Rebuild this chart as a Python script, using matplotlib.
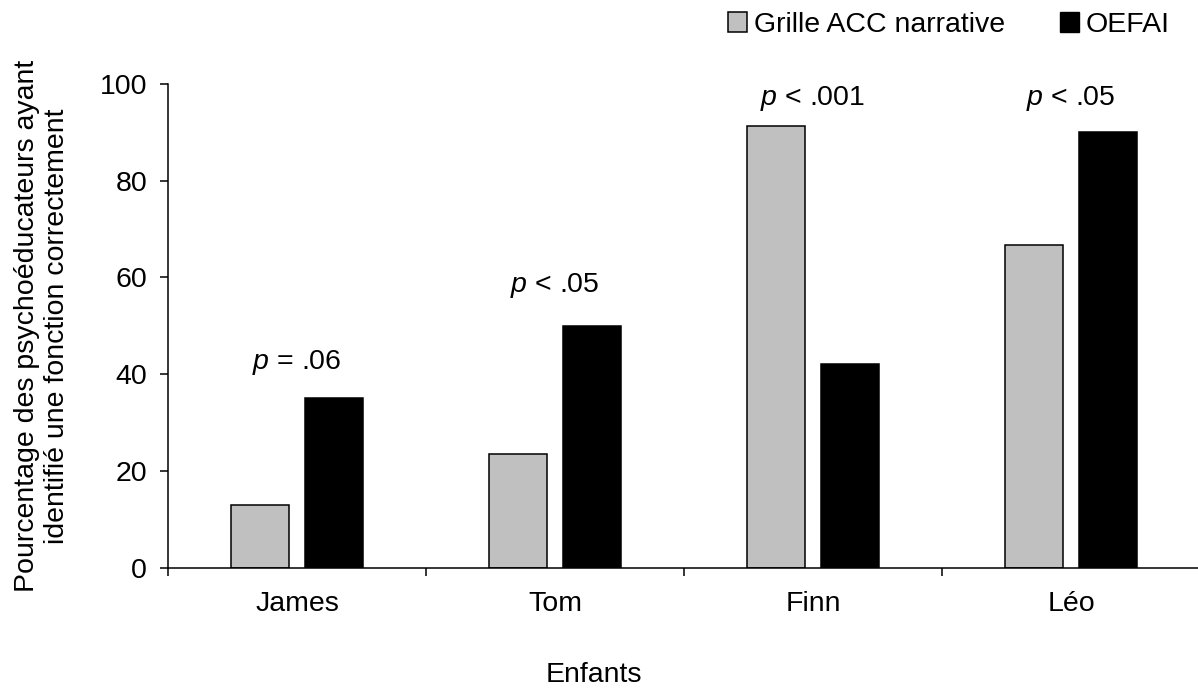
import matplotlib
matplotlib.use("Agg")
import matplotlib.pyplot as plt
from matplotlib.patches import Patch
import numpy as np

plt.rcParams["font.family"] = ["Liberation Sans", "DejaVu Sans"]
plt.rcParams["mathtext.fontset"] = "custom"
plt.rcParams["mathtext.rm"] = "Liberation Sans"
plt.rcParams["mathtext.it"] = "Liberation Sans:italic"

# data
enfants = ["James", "Tom", "Finn", "Léo"]
grille_acc = [13, 23.4, 91.3, 66.7]
oefai = [35, 50, 42, 90]
p_labels = ["$\\mathit{p}$ = .06", "$\\mathit{p}$ < .05", "$\\mathit{p}$ < .001", "$\\mathit{p}$ < .05"]
p_label_y = [42.5, 58.4, 97, 97]

fs = 20.5
fig = plt.figure(figsize=(11.98, 6.92), dpi=100)
ax = fig.add_axes([168 / 1198, 1 - 567.5 / 692, 1032 / 1198, (567.5 - 84) / 692])

x = np.arange(len(enfants))
w = 0.225
ax.bar(x - 0.144, grille_acc, w, color="#c0c0c0", edgecolor="black", linewidth=1.1)
ax.bar(x + 0.144, oefai, w, color="black", edgecolor="black", linewidth=1.1)

for xi, lab, yi in zip(x, p_labels, p_label_y):
    ax.text(xi, yi, lab, ha="center", va="center", fontsize=fs)

ax.set_xlim(-0.5, 3.5)
ax.set_ylim(0, 100)
ax.set_yticks([0, 20, 40, 60, 80, 100])
ax.set_xticks(x)
ax.set_xticklabels(enfants)
ax.set_xticks(np.arange(-0.5, 4, 1), minor=True)
ax.tick_params(axis="x", which="major", length=0, pad=17, labelsize=fs)
ax.tick_params(axis="x", which="minor", length=6, width=1.1, direction="out")
ax.tick_params(axis="y", length=6, width=1.1, pad=9, labelsize=fs, direction="out")

for s in ["top", "right"]:
    ax.spines[s].set_visible(False)
for s in ["left", "bottom"]:
    ax.spines[s].set_linewidth(1.1)

ax.set_ylabel("Pourcentage des psychoéducateurs ayant\nidentifié une fonction correctement",
              fontsize=fs, labelpad=21)
ax.set_xlabel("Enfants", fontsize=fs)
ax.xaxis.set_label_coords((594 - 168) / 1032, -(662 - 567.5) / (567.5 - 84))

handles = [Patch(facecolor="#c0c0c0", edgecolor="black", linewidth=1.1),
           Patch(facecolor="black", edgecolor="black")]
fig.legend(handles, ["Grille ACC narrative", "OEFAI"], ncol=2, frameon=False,
           fontsize=fs, loc="center left", bbox_to_anchor=(728 / 1198, 1 - 25 / 692),
           borderpad=0, borderaxespad=0, handlelength=0.65, handleheight=0.65,
           handletextpad=0.25, columnspacing=1.95)

fig.savefig("out.png", dpi=100)
